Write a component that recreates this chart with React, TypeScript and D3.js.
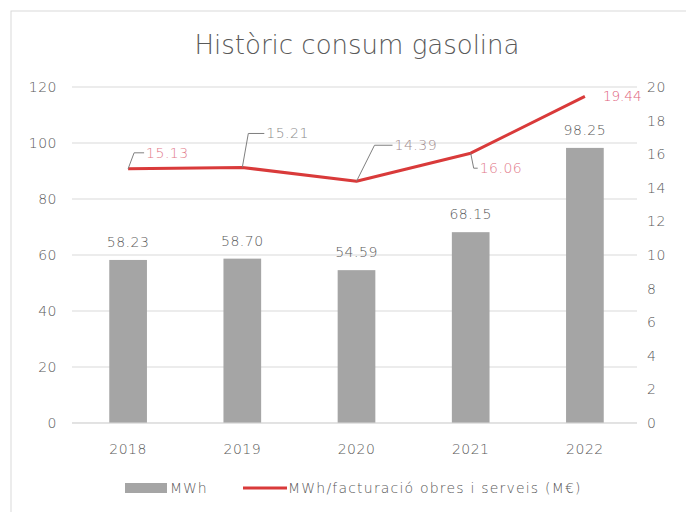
import React from "react";
import * as d3 from "d3";

const years = ["2018", "2019", "2020", "2021", "2022"];
const mwh = [58.23, 58.7, 54.59, 68.15, 98.25];
const ratio = [15.13, 15.21, 14.39, 16.06, 19.44];
const leftTicks = [0, 20, 40, 60, 80, 100, 120];
const rightTicks = [0, 2, 4, 6, 8, 10, 12, 14, 16, 18, 20];
const ratioLabelColors = ["#e27a8a", "#8c8c8c", "#a08a8e", "#e27a8a", "#e0607a"];

const W = 686;
const H = 512;
const FONT = "'DejaVu Sans', sans-serif";
const FW = 200;
const FS = 14;
const TXT = "#595959";

export default function App() {
  const x = d3.scalePoint<string>().domain(years).range([71, 642]).padding(0.5);
  const yL = d3.scaleLinear().domain([0, 120]).range([423, 87]);
  const yR = d3.scaleLinear().domain([0, 20]).range([423, 87]);
  const barW = x.step() * 0.33;
  const line = d3
    .line<number>()
    .x((_, i) => x(years[i])!)
    .y((d) => yR(d));

  const callouts = [
    { dx: 6, dy: -16, hx: 16 },
    { dx: 6, dy: -34, hx: 22 },
    { dx: 18, dy: -36, hx: 24 },
    { dx: 3, dy: 15, hx: 10 },
    { dx: 0, dy: 0, hx: 18 },
  ];

  const txt = { fontFamily: FONT, fontSize: FS, fontWeight: FW, letterSpacing: 0.5 } as const;

  return (
    <svg width={W} height={H} style={{ display: "block", position: "absolute", left: 0, top: 0, background: "#fff" }}>
      <rect x={11} y={11} width={W} height={H} fill="#fff" stroke="#d9d9d9" strokeWidth={1} />
      <text x={357} y={54} textAnchor="middle" fontFamily={FONT} fontSize={26} fill={TXT} fontWeight={FW}>
        Històric consum gasolina
      </text>
      {leftTicks.map((t) => (
        <line key={"g" + t} x1={72} x2={637} y1={yL(t)} y2={yL(t)} stroke="#d9d9d9" strokeWidth={1} />
      ))}
      {leftTicks.map((t) => (
        <text key={"l" + t} x={57} y={yL(t)} dy="0.35em" textAnchor="end" {...txt} fill={TXT}>
          {t}
        </text>
      ))}
      {rightTicks.map((t) => (
        <text key={"r" + t} x={647} y={yR(t)} dy="0.35em" textAnchor="start" {...txt} fill={TXT}>
          {t}
        </text>
      ))}
      {years.map((yr, i) => (
        <g key={yr}>
          <rect x={x(yr)! - barW / 2} y={yL(mwh[i])} width={barW} height={yL(0) - yL(mwh[i])} fill="#a5a5a5" />
          <text x={x(yr)!} y={yL(mwh[i]) - 13} textAnchor="middle" {...txt} fill={TXT}>
            {mwh[i].toFixed(2)}
          </text>
          <text x={x(yr)!} y={449} dy="0.35em" textAnchor="middle" {...txt} fill={TXT}>
            {yr}
          </text>
        </g>
      ))}
      <line x1={72} x2={637} y1={yL(0)} y2={yL(0)} stroke="#d9d9d9" strokeWidth={1} />
      <path d={line(ratio)!} fill="none" stroke="#d93a3a" strokeWidth={3} strokeLinejoin="round" />
      {ratio.map((v, i) => {
        const px = x(years[i])!;
        const py = yR(v);
        const c = callouts[i];
        const ex = px + c.dx;
        const ey = py + c.dy;
        if (i === 4) {
          return (
            <text key={"rl" + i} x={px + 18} y={py} dy="0.35em" {...txt} letterSpacing={0} fontSize={13.5} fill={ratioLabelColors[i]}>
              {v.toFixed(2)}
            </text>
          );
        }
        return (
          <g key={"rl" + i}>
            <polyline
              points={`${px},${py} ${ex},${ey} ${ex + c.hx - 6},${ey}`}
              fill="none"
              stroke="#7f7f7f"
              strokeWidth={1}
            />
            <text x={ex + c.hx - 4} y={ey} dy="0.35em" {...txt} fill={ratioLabelColors[i]}>
              {v.toFixed(2)}
            </text>
          </g>
        );
      })}
      <rect x={125} y={483} width={42} height={10} fill="#a5a5a5" />
      <text x={170} y={488} dy="0.35em" {...txt} letterSpacing={0.9} fill={TXT}>
        MWh
      </text>
      <line x1={243} x2={287} y1={488} y2={488} stroke="#d93a3a" strokeWidth={3} />
      <text x={288} y={488} dy="0.35em" {...txt} letterSpacing={1.2} fill={TXT}>
        MWh/facturació obres i serveis (M€)
      </text>
    </svg>
  );
}
